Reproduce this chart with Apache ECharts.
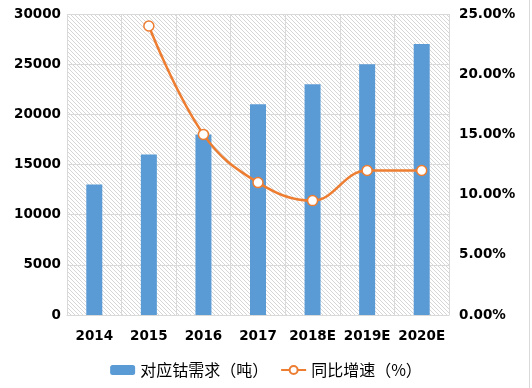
<!DOCTYPE html>
<html><head><meta charset="utf-8">
<script src="https://cdn.jsdelivr.net/npm/echarts@6/dist/echarts.min.js"></script>
<style>html,body{margin:0;padding:0;background:#fff}#c{width:532px;height:388px}</style>
</head><body><div id="c"></div>
<script>
var categories = ['2014','2015','2016','2017','2018E','2019E','2020E'];
var demand = [13000,16000,18000,21000,23000,25000,27000];
var growth = [null,24,15,11,9.5,12,12];
var leftTicks = [0,5000,10000,15000,20000,25000,30000];
var rightTicks = ['0.00%','5.00%','10.00%','15.00%','20.00%','25.00%'];
var seriesNames = ['对应钴需求（吨）','同比增速（%）'];

var pc = document.createElement('canvas');
pc.width = 4; pc.height = 4;
var g = pc.getContext('2d');
g.fillStyle = '#ffffff'; g.fillRect(0,0,4,4);
g.strokeStyle = '#d6d6d6'; g.lineWidth = 1;
g.beginPath();
for (var k=-4;k<=8;k+=4){ g.moveTo(k,0); g.lineTo(k+4,4); }
g.stroke();

var chart = echarts.init(document.getElementById('c'));
var numFont = {fontFamily:'DejaVu Sans', fontWeight:'bold', fontSize:13.5, color:'#000'};
chart.setOption({
  animation:false,
  graphic:[{type:'line', shape:{x1:529.5,y1:0,x2:529.5,y2:388}, style:{stroke:'#d9d9d9',lineWidth:1}}],
  grid:{left:67,right:83,top:14,bottom:73,show:true,backgroundColor:{image:pc,repeat:'repeat'},borderWidth:0},
  legend:{bottom:5,left:'center',itemWidth:25,itemHeight:10,itemGap:12,
    textStyle:{fontFamily:'Noto Sans CJK SC',fontSize:16,color:'#000'},
    data:[{name:seriesNames[0]},{name:seriesNames[1]}]},
  xAxis:{type:'category',data:categories,
    axisLine:{lineStyle:{color:'#d9d9d9'}},axisTick:{show:false},
    splitLine:{show:true,lineStyle:{color:'#d9d9d9'}},
    axisLabel:Object.assign({margin:14,interval:0},numFont)},
  yAxis:[
    {type:'value',min:0,max:30000,interval:5000,
     axisLine:{show:false},axisTick:{show:false},
     splitLine:{lineStyle:{color:'#d9d9d9'}},
     axisLabel:Object.assign({margin:6,formatter:function(v){return leftTicks.indexOf(v)>=0?String(v):'';}},numFont)},
    {type:'value',min:0,max:25,interval:5,
     axisLine:{show:false},axisTick:{show:false},splitLine:{show:false},
     axisLabel:Object.assign({margin:10,formatter:function(v){return rightTicks[Math.round(v/5)];}},numFont)}
  ],
  series:[
    {name:seriesNames[0],type:'bar',data:demand,barWidth:16,itemStyle:{color:'#5B9BD5'}},
    {name:seriesNames[1],type:'line',yAxisIndex:1,data:growth,smooth:0.4,
     symbol:'circle',symbolSize:10,
     lineStyle:{color:'#ED7D31',width:2.5},
     itemStyle:{color:'#ffffff',borderColor:'#ED7D31',borderWidth:1.5}}
  ]
});
</script></body></html>
